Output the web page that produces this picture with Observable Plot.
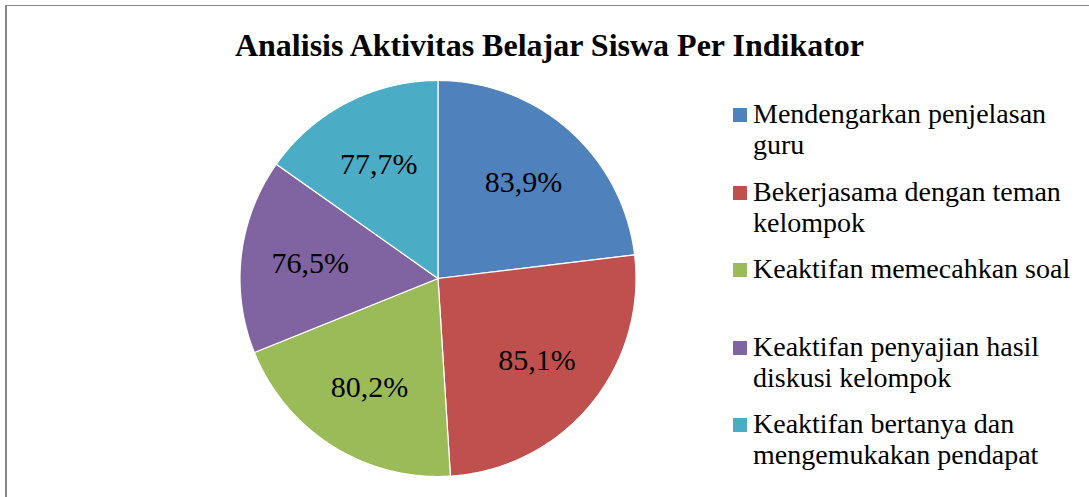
<!DOCTYPE html>
<html>
<head>
<meta charset="utf-8">
<script src="https://cdn.jsdelivr.net/npm/d3@7"></script>
<script src="https://cdn.jsdelivr.net/npm/@observablehq/plot@0.6"></script>
<style>
  html, body { margin: 0; padding: 0; background: #fff; }
  #wrap { position: relative; width: 1089px; height: 497px; overflow: hidden; background: #fff; font-family: "Liberation Serif", "Times New Roman", serif; }
  #frame { position: absolute; left: 5px; top: 5px; width: 1200px; height: 600px; border-left: 2px solid #878787; border-top: 1px solid #878787; box-sizing: border-box; }
  #title { position: absolute; left: 0; width: 1099px; top: 27px; text-align: center; font-weight: bold; font-size: 32px; line-height: 36px; color: #000; }
  #chart { position: absolute; left: 0; top: 0; }
  #legend { position: absolute; left: 733px; top: 98px; }
  .item { position: relative; height: 77.5px; }
  .sw { position: absolute; left: 0; top: 10px; width: 14px; height: 14px; }
  .lab { position: absolute; left: 20px; top: 0; width: 322px; font-size: 28px; line-height: 31px; color: #000; }
</style>
</head>
<body>
<div id="wrap">
  <div id="frame"></div>
  <div id="chart"></div>
  <div id="title"></div>
  <div id="legend"></div>
</div>
<script>
// ---- data ----
const title = "Analisis Aktivitas Belajar Siswa Per Indikator";
const categories = [
  "Mendengarkan penjelasan guru",
  "Bekerjasama dengan teman kelompok",
  "Keaktifan memecahkan soal",
  "Keaktifan penyajian hasil diskusi kelompok",
  "Keaktifan bertanya dan mengemukakan pendapat"
];
// slice shares as drawn in the picture (percent of the full circle)
const shares = [23.1, 25.9, 19.9, 15.9, 15.2];
// labels printed on the slices
const valueLabels = ["83,9%", "85,1%", "80,2%", "76,5%", "77,7%"];
const colors = ["#4F81BD", "#C0504D", "#9BBB59", "#8064A2", "#4BACC6"];

// ---- build slice polygons from the shares ----
const total = d3.sum(shares);
const polys = [];
const labels = [];
let start = 0;
categories.forEach((name, i) => {
  const a0 = start, a1 = start + shares[i] / total * 2 * Math.PI;
  polys.push({name, x: 0, y: 0});
  const n = Math.max(2, Math.ceil((a1 - a0) / (Math.PI / 360)));
  for (let k = 0; k <= n; k++) {
    const a = a0 + (a1 - a0) * k / n;
    polys.push({name, x: Math.sin(a), y: Math.cos(a)});
  }
  polys.push({name, x: 0, y: 0});
  const m = (a0 + a1) / 2;
  labels.push({name, text: valueLabels[i], x: 0.65 * Math.sin(m), y: 0.65 * Math.cos(m)});
  start = a1;
});

const chart = Plot.plot({
  width: 1089,
  height: 497,
  marginLeft: 239.5,
  marginRight: 453.5,
  marginTop: 80,
  marginBottom: 21,
  x: {domain: [-1, 1], axis: null},
  y: {domain: [-1, 1], axis: null},
  color: {domain: categories, range: colors},
  style: {background: "transparent", overflow: "visible"},
  marks: [
    Plot.line(polys, {x: "x", y: "y", z: "name", fill: "name", stroke: "white", strokeWidth: 1.2, curve: "linear"}),
    Plot.text(labels, {x: "x", y: "y", text: "text", fontSize: 30, fontFamily: "Liberation Serif", fill: "black"})
  ]
});
document.getElementById("chart").appendChild(chart);

document.getElementById("title").textContent = title;

const legend = document.getElementById("legend");
categories.forEach((c, i) => {
  const item = document.createElement("div");
  item.className = "item";
  const sw = document.createElement("div");
  sw.className = "sw";
  sw.style.background = colors[i];
  const lab = document.createElement("div");
  lab.className = "lab";
  lab.textContent = c;
  item.appendChild(sw);
  item.appendChild(lab);
  legend.appendChild(item);
});
</script>
</body>
</html>
